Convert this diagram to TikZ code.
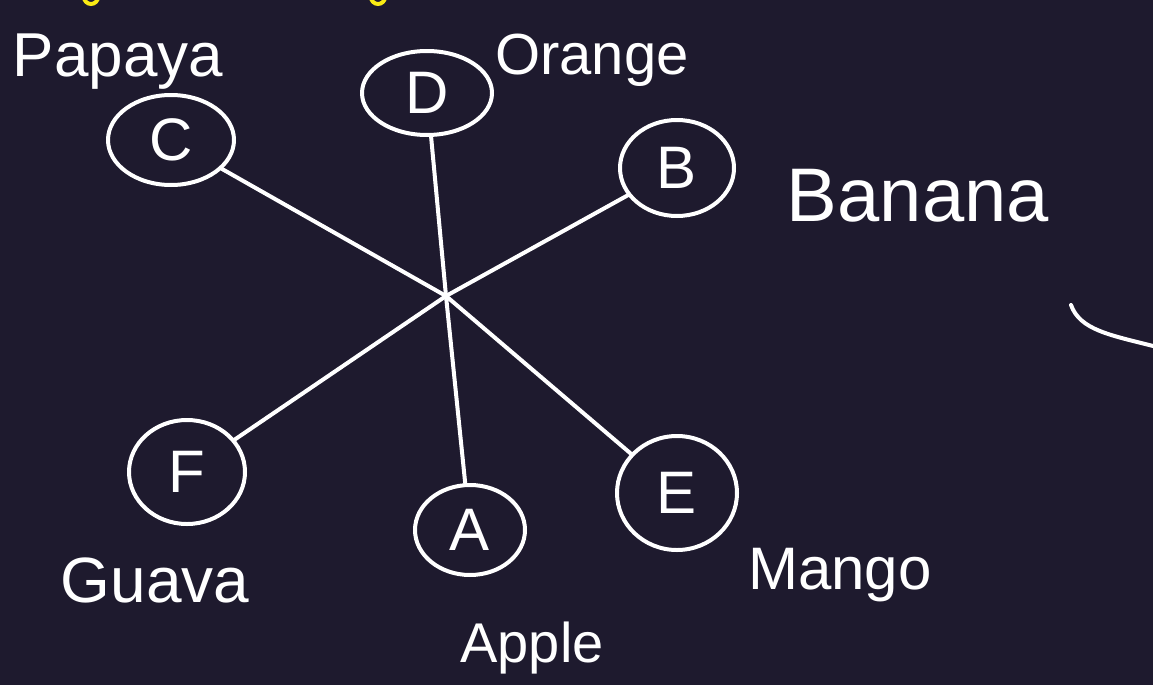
\documentclass[tikz,border=0pt]{standalone}
\usepackage{fontspec}
\setmainfont{Liberation Sans}
\usetikzlibrary{shapes.geometric}
\definecolor{bg}{RGB}{30,26,46}
\definecolor{ink}{RGB}{255,255,255}
\definecolor{hl}{RGB}{250,235,20}
\tikzset{
  stroke/.style={draw=ink, line width=4pt, line cap=round, line join=round},
  vtx/.style={stroke, ellipse, inner sep=0pt, text=ink, font=\fontsize{60}{64}\selectfont},
  lbl/.style={text=ink, inner sep=0pt},
}
\begin{document}
\begin{tikzpicture}[x=1pt,y=-1pt]
\useasboundingbox (0,0) rectangle (1153,685);
\fill[bg] (0,0) rectangle (1153,685);
% yellow marks at top
\draw[hl, line width=4pt] (84,-3) arc[start angle=180, end angle=0, radius=7];
\draw[hl, line width=4pt] (371,-3) arc[start angle=180, end angle=0, radius=7];
% vertices
\node[vtx, minimum width=126pt, minimum height=90pt] (C) at (171,140) {C};
\node[vtx, minimum width=130pt, minimum height=84pt] (D) at (427,93) {D};
\node[vtx, minimum width=114pt, minimum height=96pt] (B) at (677,168) {B};
\node[vtx, minimum width=116pt, minimum height=104pt] (F) at (187,472) {F};
\node[vtx, minimum width=110pt, minimum height=90pt] (A) at (470,530) {A};
\node[vtx, minimum width=120pt, minimum height=114pt] (E) at (677,493) {E};
\coordinate (m) at (446,296);
% connectors
\draw[stroke] (C) -- (m) -- (E);
\draw[stroke] (D) -- (m) -- (A);
\draw[stroke] (B) -- (m) -- (F);
% labels
\node[lbl, font=\fontsize{62}{66}\selectfont] (lp) at (118,62) {Papaya};
\node[lbl, font=\fontsize{58}{62}\selectfont] (lo) at (592,60) {Orange};
\node[lbl, font=\fontsize{76}{80}\selectfont] (lb) at (918,196) {Banana};
\node[lbl, font=\fontsize{60}{64}\selectfont] (lm) at (840,575) {Mango};
\node[lbl, font=\fontsize{56}{60}\selectfont] (la) at (532,648) {Apple};
\node[lbl, font=\fontsize{64}{68}\selectfont] (lg) at (155,580) {Guava};
% free stroke at right
\draw[stroke] (1071,305) .. controls (1080,330) and (1110,335) .. (1153,346);
\end{tikzpicture}
\end{document}
